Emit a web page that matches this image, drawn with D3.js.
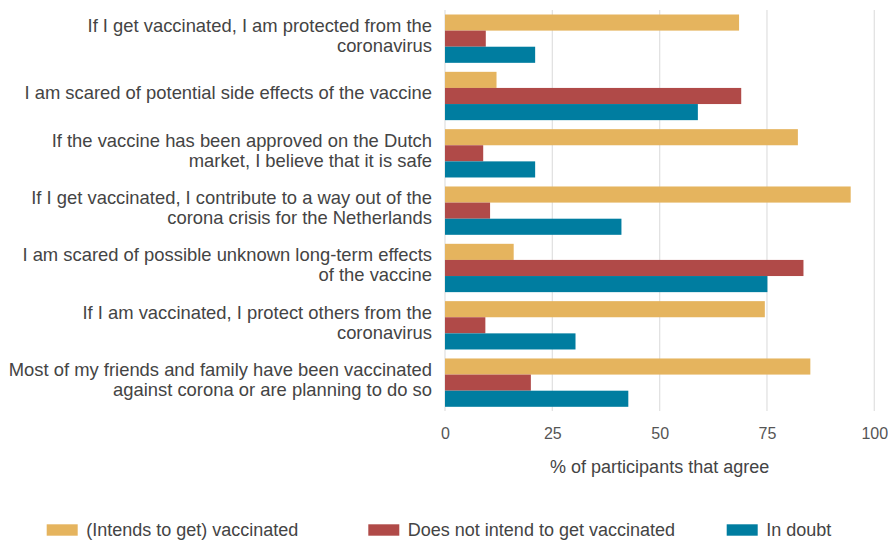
<!DOCTYPE html>
<html><head><meta charset="utf-8">
<script src="https://cdn.jsdelivr.net/npm/d3@7"></script>
<style>body{margin:0;background:#fff}svg{display:block}</style>
</head><body>
<svg id="c" width="888" height="541"></svg>
<script>
const categories = [
  ["If I get vaccinated, I am protected from the", "coronavirus"],
  ["I am scared of potential side effects of the vaccine"],
  ["If the vaccine has been approved on the Dutch", "market, I believe that it is safe"],
  ["If I get vaccinated, I contribute to a way out of the", "corona crisis for the Netherlands"],
  ["I am scared of possible unknown long-term effects", "of the vaccine"],
  ["If I am vaccinated, I protect others from the", "coronavirus"],
  ["Most of my friends and family have been vaccinated", "against corona or are planning to do so"]
];
const seriesNames = ["(Intends to get) vaccinated", "Does not intend to get vaccinated", "In doubt"];
const vaccinated = [68.5, 12.0, 82.2, 94.5, 16.0, 74.5, 85.1];
const notIntend  = [9.5, 69.0, 8.9, 10.5, 83.5, 9.4, 20.0];
const inDoubt    = [21.0, 58.9, 21.0, 41.1, 75.1, 30.4, 42.7];
const tickValues = [0, 25, 50, 75, 100];
const colors = ["#E5B45E", "#B04A48", "#007DA0"];

const series = [vaccinated, notIntend, inDoubt];
const font = "'Liberation Sans', Arial, sans-serif";
const svg = d3.select("#c");
const x = d3.scaleLinear().domain([0, 100]).range([445, 874.3]);
const y = d3.scaleBand().domain(d3.range(categories.length)).range([10, 411.3]).paddingInner(0.157).paddingOuter(0.0785);
const ySub = d3.scaleBand().domain(d3.range(series.length)).range([0, y.bandwidth()]);

// grid
svg.append("g").selectAll("line").data(tickValues).join("line")
  .attr("x1", d => x(d)).attr("x2", d => x(d)).attr("y1", 10).attr("y2", 411)
  .attr("stroke", "#e2e2e2").attr("stroke-width", 1.3);

// bars
const g = svg.append("g").selectAll("g").data(categories).join("g")
  .attr("transform", (d, i) => `translate(0,${y(i)})`);
g.selectAll("rect").data((d, i) => series.map((s, k) => ({k, v: s[i]}))).join("rect")
  .attr("x", x(0)).attr("y", d => ySub(d.k)).attr("height", ySub.bandwidth())
  .attr("width", d => x(d.v) - x(0)).attr("fill", d => colors[d.k]);

// category labels
const lab = svg.append("g").selectAll("text").data(categories).join("text")
  .attr("text-anchor", "end").attr("font-family", font).attr("font-size", 18.4).attr("fill", "#444");
lab.each(function(lines, i) {
  const cy = y(i) + y.bandwidth() / 2 - 3;
  const lh = 20;
  const start = cy - (lines.length - 1) * lh / 2;
  d3.select(this).selectAll("tspan").data(lines).join("tspan")
    .attr("x", 432).attr("y", (d, j) => start + j * lh).attr("dy", "0.35em").text(d => d);
});

// axis
const axis = svg.append("g").attr("transform", "translate(0,411)")
  .call(d3.axisBottom(x).tickValues(tickValues).tickSize(0).tickPadding(17));
axis.select(".domain").remove();
axis.selectAll("text").attr("font-family", font).attr("font-size", 16).attr("fill", "#555");

svg.append("text").attr("x", (x(0) + x(100)) / 2).attr("y", 467).attr("dy", "0.35em")
  .attr("text-anchor", "middle").attr("font-family", font).attr("font-size", 18).attr("fill", "#444")
  .text("% of participants that agree");

// legend
const legX = [46.7, 368.3, 726.7];
const leg = svg.append("g").selectAll("g").data(seriesNames).join("g")
  .attr("transform", (d, i) => `translate(${legX[i]},524.3)`);
leg.append("rect").attr("width", 31).attr("height", 11.4).attr("fill", (d, i) => colors[i]);
leg.append("text").attr("x", 39.5).attr("y", 5.7).attr("dy", "0.35em")
  .attr("font-family", font).attr("font-size", 18).attr("fill", "#444").text(d => d);
</script>
</body></html>
